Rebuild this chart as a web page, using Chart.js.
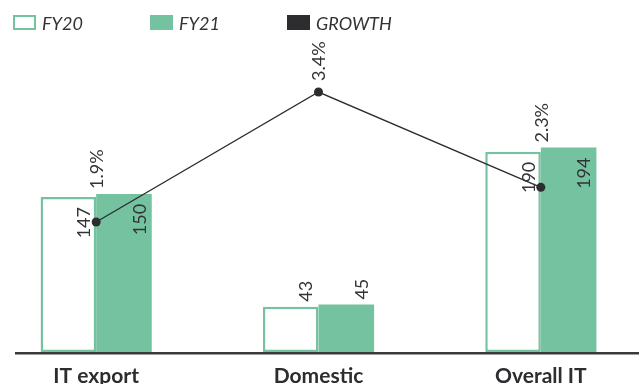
<!DOCTYPE html>
<html>
<head>
<meta charset="utf-8">
<script src="https://cdn.jsdelivr.net/npm/chart.js@4.4.0/dist/chart.umd.min.js"></script>
<style>
  html, body { margin: 0; padding: 0; background: #fff; overflow: hidden; }
  #wrap { position: relative; width: 639px; height: 384px; overflow: hidden; }
  /* chart area runs a little past both edges of the picture */
  #box { position: absolute; left: -15px; top: 0; width: 667px; height: 384px; }
  #legend { position: absolute; left: 13px; top: 15px; display: flex; font: italic 18px Lato, sans-serif; color: #333; z-index: 2; }
  .item { display: flex; align-items: center; width: 137px; height: 15px; line-height: 15px; }
  .item span:last-child { position: relative; top: 1px; }
  .swatch { width: 23px; height: 15px; box-sizing: border-box; margin-right: 6px; flex: none; }
</style>
</head>
<body>
<div id="wrap">
  <div id="legend"></div>
  <div id="box"><canvas id="itChart"></canvas></div>
</div>
<script>
// ----------------------- data --------------------------------
const categories = ['IT export', 'Domestic', 'Overall IT'];
const fy20 = [147, 43, 190];
const fy21 = [150, 45, 194];
const growth = [1.9, 3.4, 2.3];

const green = '#74c29f';
const dark = '#2d2d30';
const textColor = '#333335';

// baseline under the bars (starts a bit in from the left edge)
const baseline = {
	id: 'baseline',
	beforeDatasetsDraw(chart) {
		const ctx = chart.ctx;
		const y = chart.chartArea.bottom + 1.2;
		ctx.save();
		ctx.strokeStyle = '#3a3a3c';
		ctx.lineWidth = 2.6;
		ctx.beginPath();
		ctx.moveTo(30, y);
		ctx.lineTo(chart.width, y);
		ctx.stroke();
		ctx.restore();
	}
};

// rotated value labels on bars and growth points
const valueLabels = {
	id: 'valueLabels',
	afterDatasetsDraw(chart) {
		const ctx = chart.ctx;
		ctx.save();
		ctx.fillStyle = textColor;
		ctx.font = '18px Lato';
		ctx.textBaseline = 'middle';
		let barTops = [];
		chart.data.datasets.forEach(function(ds, i) {
			const meta = chart.getDatasetMeta(i);
			if (meta.type !== 'bar') return;
			meta.data.forEach(function(bar, j) {
				barTops[j] = Math.min(barTops[j] === undefined ? Infinity : barTops[j], bar.y);
				const right = bar.x + bar.width / 2;
				const tall = bar.base - bar.y > 60;
				ctx.save();
				ctx.translate(right - 12, tall ? bar.y + 10 : bar.y - 5);
				ctx.rotate(-Math.PI / 2);
				ctx.textAlign = tall ? 'right' : 'left';
				ctx.fillText(ds.data[j], 0, 0);
				ctx.restore();
			});
		});
		chart.data.datasets.forEach(function(ds, i) {
			const meta = chart.getDatasetMeta(i);
			if (meta.type !== 'line') return;
			meta.data.forEach(function(pt, j) {
				const bottom = Math.min(pt.y - 11, barTops[j] - 5);
				ctx.save();
				ctx.translate(pt.x + 1, bottom);
				ctx.rotate(-Math.PI / 2);
				ctx.textAlign = 'left';
				ctx.fillText(ds.data[j].toFixed(1) + '%', 0, 0);
				ctx.restore();
			});
		});
		ctx.restore();
	}
};

const ctx = document.querySelector('#itChart').getContext('2d');

const itChart = new Chart(ctx, {
	type: 'bar',
	data: {
		labels: categories,
		datasets: [{
			label: 'FY20',
			data: fy20,
			backgroundColor: '#ffffff',
			borderColor: green,
			borderWidth: 2.5,
			borderSkipped: false,
			categoryPercentage: 0.5,
			barPercentage: 1,
			yAxisID: 'y',
			order: 2
		}, {
			label: 'FY21',
			data: fy21,
			backgroundColor: green,
			borderColor: green,
			borderWidth: 0,
			categoryPercentage: 0.5,
			barPercentage: 1,
			yAxisID: 'y',
			order: 2
		}, {
			type: 'line',
			label: 'GROWTH',
			data: growth,
			borderColor: dark,
			backgroundColor: dark,
			borderWidth: 1.4,
			pointRadius: 4.5,
			pointBackgroundColor: dark,
			pointBorderWidth: 0,
			yAxisID: 'y2',
			order: 1
		}]
	},
	options: {
		responsive: true,
		maintainAspectRatio: false,
		animation: false,
		layout: {
			autoPadding: false,
			padding: { top: 40, left: 0, right: 0, bottom: -17 }
		},
		scales: {
			x: {
				offset: true,
				grid: { display: false, drawTicks: false },
				border: { display: false },
				ticks: {
					color: dark,
					padding: 14,
					maxRotation: 0,
					autoSkip: false,
					font: { family: 'Lato', weight: 'bold', size: 21, lineHeight: 1 }
				}
			},
			y: {
				display: false,
				min: 0,
				max: 296
			},
			y2: {
				display: false,
				position: 'right',
				min: 0.4,
				max: 4.0
			}
		},
		plugins: {
			legend: { display: false },
			tooltip: { enabled: false }
		}
	},
	plugins: [baseline, valueLabels]
});

// ----------------------- html legend --------------------------------
const legendBox = document.querySelector('#legend');
itChart.data.datasets.forEach(function(ds) {
	const item = document.createElement('div');
	item.className = 'item';
	const sw = document.createElement('span');
	sw.className = 'swatch';
	sw.style.background = ds.backgroundColor;
	if (ds.type !== 'line') {
		sw.style.border = (ds.borderWidth ? 2.5 : 0) + 'px solid ' + ds.borderColor;
	}
	const txt = document.createElement('span');
	txt.textContent = ds.label;
	item.appendChild(sw);
	item.appendChild(txt);
	legendBox.appendChild(item);
});
</script>
</body>
</html>
